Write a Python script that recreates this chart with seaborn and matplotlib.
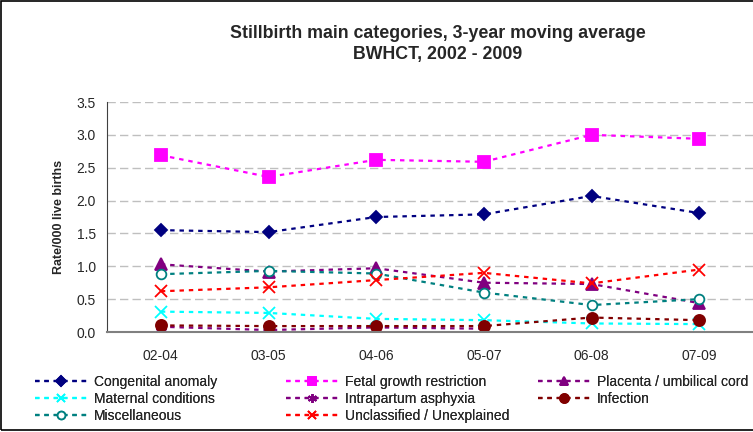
import numpy as np
import pandas as pd
import matplotlib
matplotlib.use("Agg")
import matplotlib.pyplot as plt
from matplotlib.patches import Rectangle
import seaborn as sns

periods = ["02-04", "03-05", "04-06", "05-07", "06-08", "07-09"]
congenital = [1.55, 1.52, 1.75, 1.79, 2.07, 1.81]
fetal_growth = [2.69, 2.36, 2.62, 2.59, 3.00, 2.94]
placenta = [1.03, 0.92, 0.97, 0.75, 0.73, 0.44]
maternal = [0.31, 0.29, 0.20, 0.18, 0.13, 0.12]
intrapartum = [0.08, 0.03, 0.07, 0.05, np.nan, np.nan]
infection = [0.10, 0.09, 0.09, 0.09, 0.22, 0.18]
miscellaneous = [0.88, 0.93, 0.89, 0.60, 0.41, 0.50]
unclassified = [0.62, 0.68, 0.79, 0.90, 0.74, 0.95]

series = {
    "Congenital anomaly": congenital,
    "Fetal growth restriction": fetal_growth,
    "Placenta / umbilical cord": placenta,
    "Maternal conditions": maternal,
    "Intrapartum asphyxia": intrapartum,
    "Infection": infection,
    "Miscellaneous": miscellaneous,
    "Unclassified / Unexplained": unclassified,
}

styles = {
    "Congenital anomaly": dict(color="#000080", marker="D", ms=6, mfc="#000080"),
    "Fetal growth restriction": dict(color="#FF00FF", marker="s", ms=8, mfc="#FF00FF"),
    "Placenta / umbilical cord": dict(color="#800080", marker="^", ms=8, mfc="#800080"),
    "Maternal conditions": dict(color="#00FFFF", marker="x", ms=8, mfc="none"),
    "Intrapartum asphyxia": dict(color="#800080", marker=(6, 2, 0), ms=8, mfc="none"),
    "Infection": dict(color="#800000", marker="o", ms=8, mfc="#800000"),
    "Miscellaneous": dict(color="#008080", marker="o", ms=7, mfc="white"),
    "Unclassified / Unexplained": dict(color="#FF0000", marker="x", ms=8, mfc="none"),
}

rows = []
for name, vals in series.items():
    for i, (p, v) in enumerate(zip(periods, vals)):
        rows.append({"series": name, "idx": i, "period": p, "value": v})
df = pd.DataFrame(rows)

sns.set_style("white")
plt.rcParams["font.family"] = ["Liberation Sans", "DejaVu Sans"]

fig = plt.figure(figsize=(7.53, 4.32), dpi=100)
ax = fig.add_axes([107 / 753, 1 - 332 / 432, 1 - 107 / 753, 230 / 432])

handles = {}
for name in series:
    st = styles[name]
    sub = df[df["series"] == name].dropna()
    sns.lineplot(data=sub, x="idx", y="value", ax=ax, color=st["color"],
                 linestyle=(0, (2, 2.2)), linewidth=1.6, marker=st["marker"],
                 markersize=st["ms"], markerfacecolor=st["mfc"],
                 markeredgecolor=st["color"], markeredgewidth=1.3,
                 label=name, legend=False)
    handles[name] = ax.lines[-1]

ax.set_xlim(-0.5, 5.5)
ax.set_ylim(0, 3.5)
ax.set_yticks(np.arange(0, 3.51, 0.5))
ax.set_yticklabels([f"{v:.1f}" for v in np.arange(0, 3.51, 0.5)], fontsize=10)
ax.set_xticks(range(len(periods)))
ax.set_xticklabels(periods, fontsize=10)
ax.set_xticks(np.arange(-0.5, 5.6, 1), minor=True)
ax.tick_params(axis="x", which="major", length=0, pad=12)
ax.tick_params(axis="x", which="minor", length=5, width=1, color="#404040", direction="out")
ax.tick_params(axis="y", length=5, width=1, color="#404040", direction="out", pad=3)
ax.set_xlabel("")
ax.set_ylabel("Rate/000 live births", fontsize=9, fontweight="bold", labelpad=8)

for y in np.arange(0.5, 3.51, 0.5):
    ax.axhline(y, color="#BFBFBF", linestyle=(0, (6, 3)), linewidth=1, zorder=0)

for s in ["top", "right"]:
    ax.spines[s].set_visible(False)
ax.spines["left"].set_color("#404040")
ax.spines["bottom"].set_color("#808080")
ax.spines["bottom"].set_linewidth(1.5)

fig.text(438 / 753, 1 - 33 / 432, "Stillbirth main categories, 3-year moving average",
         ha="center", va="center", fontsize=12.8, fontweight="bold")
fig.text(438 / 753, 1 - 54 / 432, "BWHCT, 2002 - 2009",
         ha="center", va="center", fontsize=12.8, fontweight="bold")

columns = [
    (35, ["Congenital anomaly", "Maternal conditions", "Miscellaneous"]),
    (286, ["Fetal growth restriction", "Intrapartum asphyxia", "Unclassified / Unexplained"]),
    (538, ["Placenta / umbilical cord", "Infection"]),
]
for xpx, names in columns:
    leg = fig.legend([handles[n] for n in names], names, loc="upper left",
                     bbox_to_anchor=(xpx / 753, 1 - 375 / 432), ncol=1, frameon=False,
                     fontsize=10, handlelength=3.8, handletextpad=0.45,
                     labelspacing=0.2, borderaxespad=0, borderpad=0, numpoints=1,
                     markerscale=0.8)
    fig.add_artist(leg)

fig.patches.append(Rectangle((0.0015, 0.004), 1.2, 0.993, transform=fig.transFigure,
                             fill=False, edgecolor="black", linewidth=1.2))

fig.savefig("out.png", dpi=100)
